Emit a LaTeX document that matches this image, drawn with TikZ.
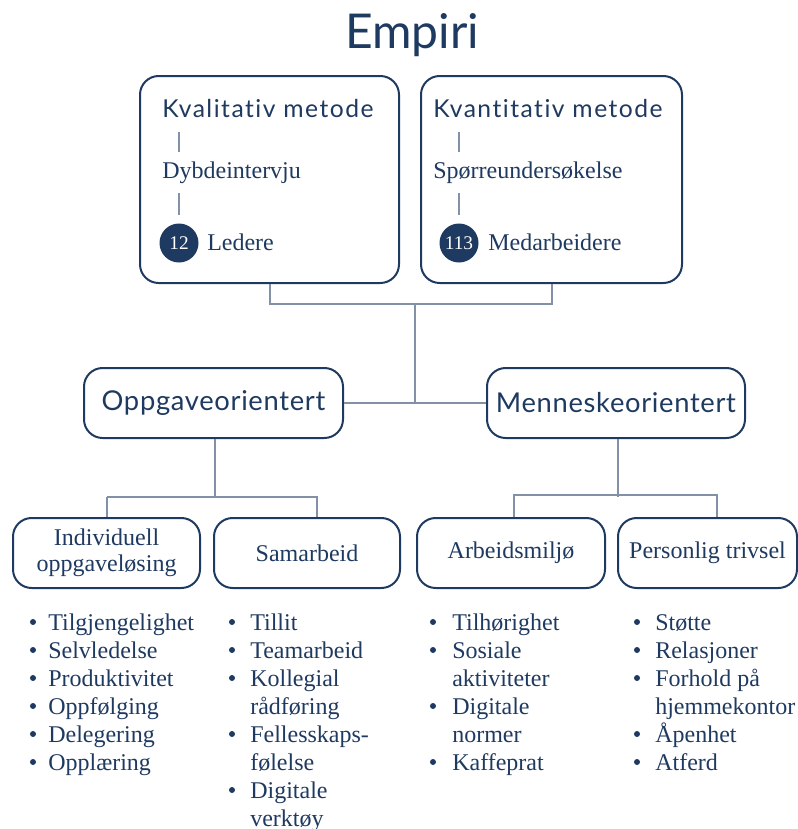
\documentclass[tikz,border=0pt]{standalone}
\usepackage{fontspec}
\setmainfont{Liberation Serif}
\newfontfamily\titlefont{Lato}
\newfontfamily\headfont[LetterSpace=6, Ligatures={NoCommon,NoRare,NoContextual}]{Lato}
\newfontfamily\midfont[LetterSpace=2.5, Ligatures={NoCommon,NoRare,NoContextual}]{Lato}
\usetikzlibrary{calc}
\definecolor{navy}{HTML}{1F3A60}
\definecolor{connc}{HTML}{8291A7}
\begin{document}
\begin{tikzpicture}[x=0.75pt,y=-0.75pt,
  box/.style={draw=navy, line width=1.5pt, rounded corners=14pt, fill=white, text=navy, inner sep=0pt},
  conn/.style={draw=connc, line width=1.5pt},
  tick/.style={draw=connc, line width=1.2pt},
  sanstxt/.style={text=navy, font=\headfont\fontsize{18.5}{22}\selectfont, inner sep=0pt},
  serif/.style={text=navy, font=\fontsize{18}{21}\selectfont, inner sep=0pt},
  num/.style={circle, fill=navy, minimum size=29.25pt, inner sep=0pt, text=white, font=\fontsize{14.5}{14}\selectfont},
  dot/.style={fill=navy}]
\useasboundingbox (0,0) rectangle (798,829);

% title
\node[text=navy, font=\titlefont\fontsize{36}{40}\selectfont, inner sep=0pt, anchor=base] (title) at (412,48) {Empiri};

% top boxes
\node[box, minimum width=194.25pt, minimum height=155.25pt] (kval) at (269.5,179.5) {};
\node[box, minimum width=195.75pt, minimum height=155.25pt] (kvan) at (551.5,179.5) {};

% Kvalitativ contents
\node[sanstxt, anchor=base west] (kt) at (162,117) {Kvalitativ metode};
\node[serif, anchor=base west] (kd) at (162,178) {Dybdeintervju};
\node[num] (kc) at (179,243) {12};
\node[serif, anchor=base west] (kl) at (207,250) {Ledere};
\coordinate (ka1) at (179,132); \coordinate (ka2) at (179,152);
\coordinate (ka3) at (179,193); \coordinate (ka4) at (179,215);
\draw[tick] (ka1) -- (ka2);
\draw[tick] (ka3) -- (ka4);

% Kvantitativ contents
\node[sanstxt, anchor=base west] (qt) at (433,117) {Kvantitativ metode};
\node[serif, anchor=base west] (qd) at (433,178) {Spørreundersøkelse};
\node[num] (qc) at (459,243) {113};
\node[serif, anchor=base west] (ql) at (488,250) {Medarbeidere};
\coordinate (qa1) at (459,132); \coordinate (qa2) at (459,152);
\coordinate (qa3) at (459,193); \coordinate (qa4) at (459,215);
\draw[tick] (qa1) -- (qa2);
\draw[tick] (qa3) -- (qa4);

% level 2
\node[box, minimum width=194.25pt, minimum height=52.5pt, font=\midfont\fontsize{20.5}{24}\selectfont] (opp) at (213.5,403) {Oppgaveorientert};
\node[box, minimum width=193.5pt, minimum height=52.5pt, font=\midfont\fontsize{20.5}{24}\selectfont] (men) at (616,403) {Menneskeorientert};

% level 3
\node[box, minimum width=140.25pt, minimum height=52.5pt, align=center, font=\fontsize{18}{19.5}\selectfont] (ind) at (106.5,553) {Individuell\\oppgaveløsing};
\node[box, minimum width=139.5pt, minimum height=52.5pt, font=\fontsize{18}{21}\selectfont] (sam) at (307,553) {Samarbeid};
\node[box, minimum width=141pt, minimum height=52.5pt, font=\fontsize{18}{21}\selectfont] (arb) at (511,553) {Arbeidsmiljø};
\node[box, minimum width=134.25pt, minimum height=52.5pt, font=\fontsize{18}{21}\selectfont] (per) at (707.5,553) {Personlig trivsel};

% connectors
\coordinate (j1) at (415,304);
\coordinate (j2) at (415,403);
\draw[conn] (kval.south) |- (j1) -| (kvan.south);
\draw[conn] (j1) -- (j2);
\draw[conn] (opp.east) -- (men.west);

\coordinate (j3) at ($(opp.south)+(1.5,58)$);
\draw[conn] ($(opp.south)+(1.5,0)$) -- (j3);
\draw[conn] (j3 -| ind.north) -- ($(j3)+(102,0)$) -- ($(sam.north)+(10,0)$);
\draw[conn] (j3 -| ind.north) -- (ind.north);

\coordinate (j4) at ($(men.south)+(2,58)$);
\draw[conn] ($(men.south)+(2,0)$) -- (j4);
\draw[conn] ($(arb.north)+(3,0)$) -- ($(arb.north)+(3,-22)$) -- ($(per.north)+(9.5,-22)$) -- ($(per.north)+(9.5,0)$);

% bullet lists
\foreach \bx/\tx/\items in {
  33/48/{1/Tilgjengelighet,1/Selvledelse,1/Produktivitet,1/Oppfølging,1/Delegering,1/Opplæring},
  232/250/{1/Tillit,1/Teamarbeid,1/Kollegial,0/rådføring,1/Fellesskaps-,0/følelse,1/Digitale,0/verktøy},
  433/452/{1/Tilhørighet,1/Sosiale,0/aktiviteter,1/Digitale,0/normer,1/Kaffeprat},
  637/655/{1/Støtte,1/Relasjoner,1/Forhold på,0/hjemmekontor,1/Åpenhet,1/Atferd}}{
  \foreach \b/\t [count=\i from 0] in \items {
    \node[serif, anchor=base west] at (\tx,630+28*\i) {\t};
    \ifnum\b=1 \fill[dot] (\bx,622+28*\i) circle (3); \fi
  }
}
\end{tikzpicture}
\end{document}
